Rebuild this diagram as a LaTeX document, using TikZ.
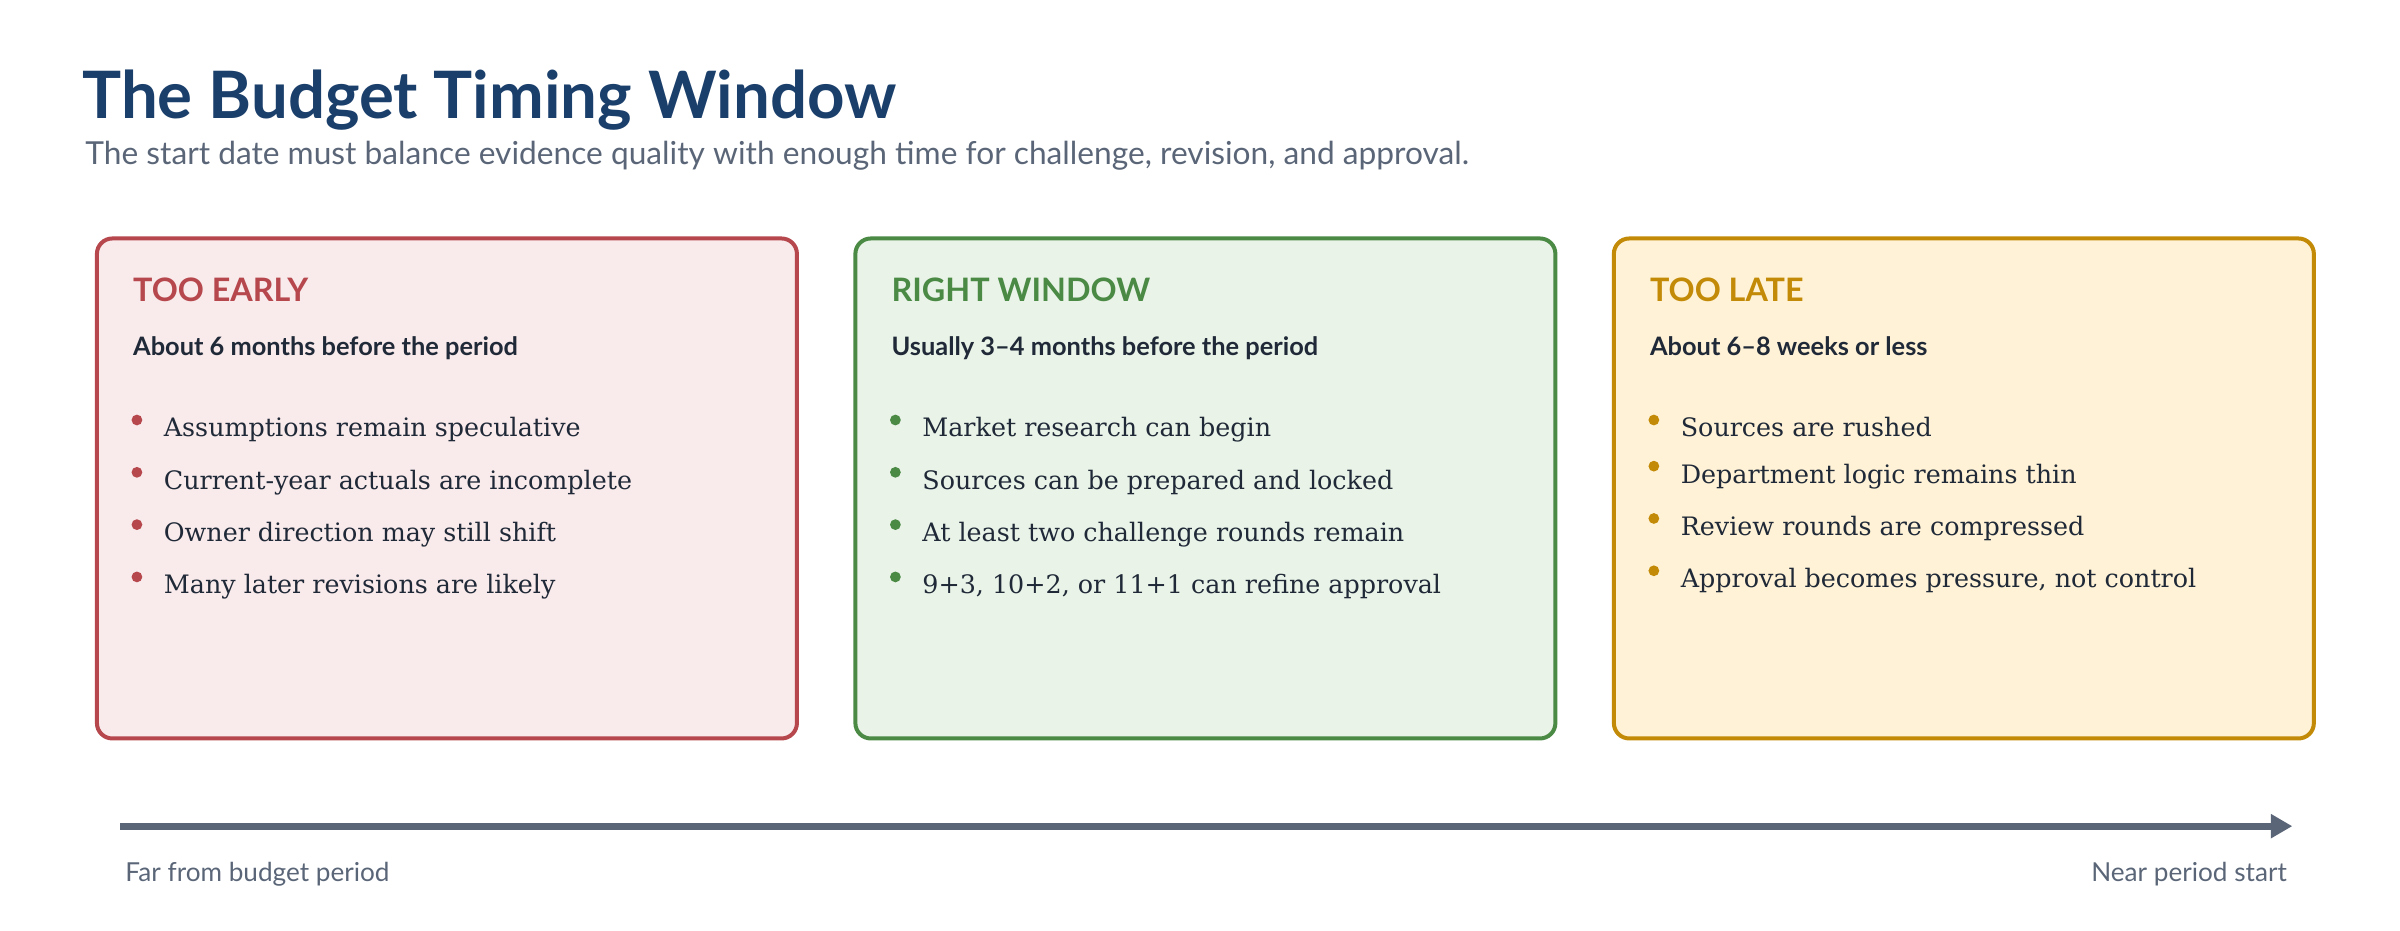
\documentclass[tikz,border=0pt]{standalone}
\usepackage{fontspec}
\setmainfont{DejaVu Serif}
\newfontfamily\lato{Lato}
\usetikzlibrary{arrows.meta}
\definecolor{ttl}{HTML}{1B3F6B}
\definecolor{sub}{HTML}{5A6678}
\definecolor{rs}{HTML}{B5474D}\definecolor{rf}{HTML}{F9EAEB}
\definecolor{gs}{HTML}{4A8A45}\definecolor{gf}{HTML}{EAF3E8}
\definecolor{ys}{HTML}{C28A06}\definecolor{yf}{HTML}{FFF2D6}
\definecolor{txt}{HTML}{1F2937}
\begin{document}
\begin{tikzpicture}[x=1pt,y=-1pt,
 box/.style={rounded corners=10pt,line width=2.6pt},
 head/.style={anchor=base west,font=\lato\bfseries\fontsize{21}{24}\selectfont},
 subh/.style={anchor=base west,font=\lato\bfseries\fontsize{16.5}{19}\selectfont,text=txt},
 item/.style={anchor=base west,font=\fontsize{16.5}{19}\selectfont,text=txt},
 dot/.style={circle,inner sep=0pt,minimum size=7pt}]
\useasboundingbox (0,0) rectangle (1560,605);
\node[anchor=base west,font=\lato\bfseries\fontsize{42.5}{48}\selectfont,text=ttl] (t) at (50,77) {The Budget Timing Window};
\node[anchor=base west,font=\lato\fontsize{20.6}{25}\selectfont,text=sub] (s) at (52,107) {The start date must balance evidence quality with enough time for challenge, revision, and approval.};
\foreach \x/\s/\f/\h/\sh [count=\k] in {
 63/rs/rf/TOO EARLY/About 6 months before the period,
 556/gs/gf/RIGHT WINDOW/Usually 3–4 months before the period,
 1049/ys/yf/TOO LATE/About 6–8 weeks or less}{
 \draw[box,draw=\s,fill=\f] (\x,155) rectangle ++(455,325);
 \node[head,text=\s] (h\k) at (\x+20,196) {\h};
 \node[subh] (sh\k) at (\x+20,231) {\sh};
}
\foreach \t [count=\i] in {Assumptions remain speculative,Current-year actuals are incomplete,Owner direction may still shift,Many later revisions are likely}{
 \node[dot,fill=rs] (ra\i) at (89,273+34*\i-34) {};
 \node[item] (rb\i) at (103,284+34*\i-34) {\t};}
\foreach \t [count=\i] in {Market research can begin,Sources can be prepared and locked,At least two challenge rounds remain,{9+3, 10+2, or 11+1 can refine approval}}{
 \node[dot,fill=gs] (ga\i) at (582,273+34*\i-34) {};
 \node[item] (gb\i) at (596,284+34*\i-34) {\t};}
\foreach \t/\y [count=\i] in {Sources are rushed/284,Department logic remains thin/314,Review rounds are compressed/348,{Approval becomes pressure, not control}/382}{
 \node[dot,fill=ys] (ya\i) at (1075,\y-11) {};
 \node[item] (yb\i) at (1089,\y) {\t};}
\coordinate (a1) at (78,537); \coordinate (a2) at (1490,537);
\draw[sub,line width=4.5pt,-{Triangle[length=14pt,width=15pt]}] (a1) -- (a2);
\node[anchor=base west,font=\lato\fontsize{17}{20}\selectfont,text=sub] (l1) at (78,573) {Far from budget period};
\node[anchor=base east,font=\lato\fontsize{17}{20}\selectfont,text=sub] (l2) at (1490,573) {Near period start};
\end{tikzpicture}
\end{document}
